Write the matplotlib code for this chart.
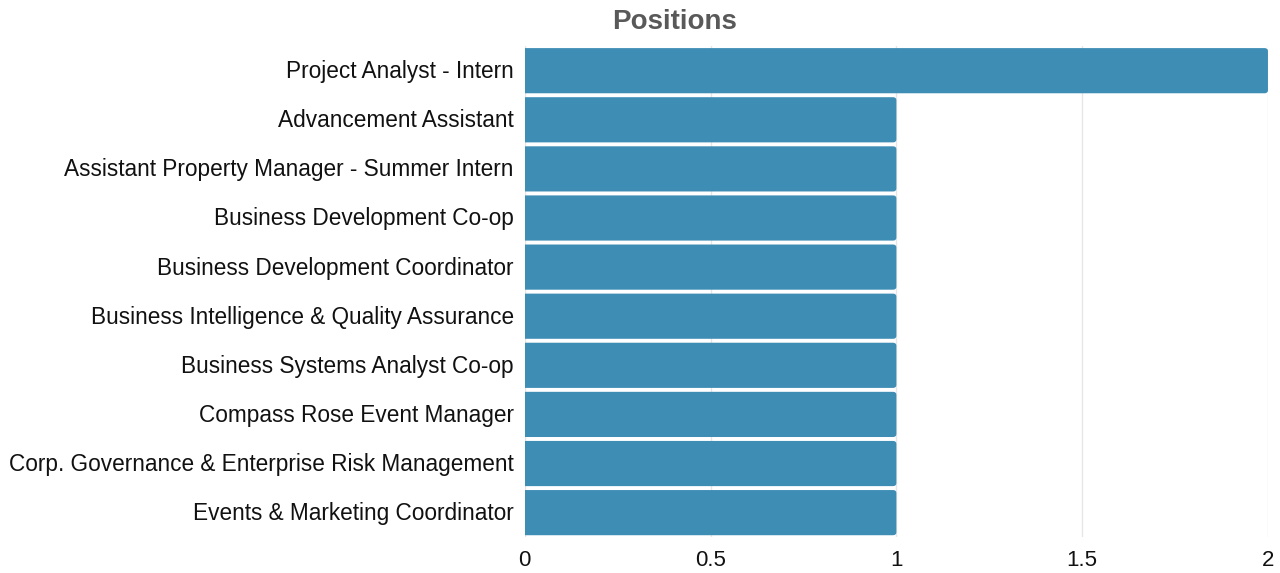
import numpy as np
import matplotlib.pyplot as plt
from matplotlib.patches import FancyBboxPatch
from matplotlib.transforms import ScaledTranslation

plt.rcParams['font.family'] = ['Liberation Sans', 'DejaVu Sans']

# data
positions = [
    'Project Analyst - Intern',
    'Advancement Assistant',
    'Assistant Property Manager - Summer Intern',
    'Business Development Co-op',
    'Business Development Coordinator',
    'Business Intelligence & Quality Assurance',
    'Business Systems Analyst Co-op',
    'Compass Rose Event Manager',
    'Corp. Governance & Enterprise Risk Management',
    'Events & Marketing Coordinator',
]
counts = [2, 1, 1, 1, 1, 1, 1, 1, 1, 1]
x_ticks = [0, 0.5, 1, 1.5, 2]
x_tick_labels = ['0', '0.5', '1', '1.5', '2']

bar_color = '#3e8db5'

fig = plt.figure(figsize=(12.8, 5.73), dpi=100)
ax = fig.add_axes([0.41, 0.0625, 0.5806, 0.857])

y = np.arange(len(positions))
bars = ax.barh(y, counts, height=0.92, color=bar_color)

# swap plain bars for ones with rounded ends
for b in bars:
    x0, y0 = b.get_x(), b.get_y()
    w, h = b.get_width(), b.get_height()
    b.set_visible(False)
    p = FancyBboxPatch((x0 - 0.02, y0), w + 0.02, h,
                       boxstyle='round,pad=0,rounding_size=0.009',
                       mutation_aspect=7.0,
                       facecolor=bar_color, edgecolor='none', zorder=2)
    ax.add_patch(p)

ax.set_xlim(0, 2)
ax.set_ylim(len(positions) - 0.5, -0.5)
ax.set_yticks(y)
ax.set_yticklabels(positions, fontsize=16.3, color='#111111')
ax.set_xticks(x_ticks)
ax.set_xticklabels(x_tick_labels, fontsize=16, color='#111111')
ax.tick_params(axis='x', length=0, pad=9)
ax.tick_params(axis='y', length=0, pad=8)

# nudge the category labels up a little
shift = ScaledTranslation(0, 1.5 / 100, fig.dpi_scale_trans)
for t in ax.yaxis.get_major_ticks():
    t.label1.set_va('center_baseline')
    t.label1.set_transform(t.label1.get_transform() + shift)

ax.grid(axis='x', color='#e6e6e6', linewidth=1, zorder=0)
ax.set_axisbelow(True)
for s in ax.spines.values():
    s.set_visible(False)

fig.text(0.527, 0.962, 'Positions', ha='center', va='center',
         fontsize=20, fontweight='bold', color='#595959')

fig.savefig('out.png', dpi=100)
